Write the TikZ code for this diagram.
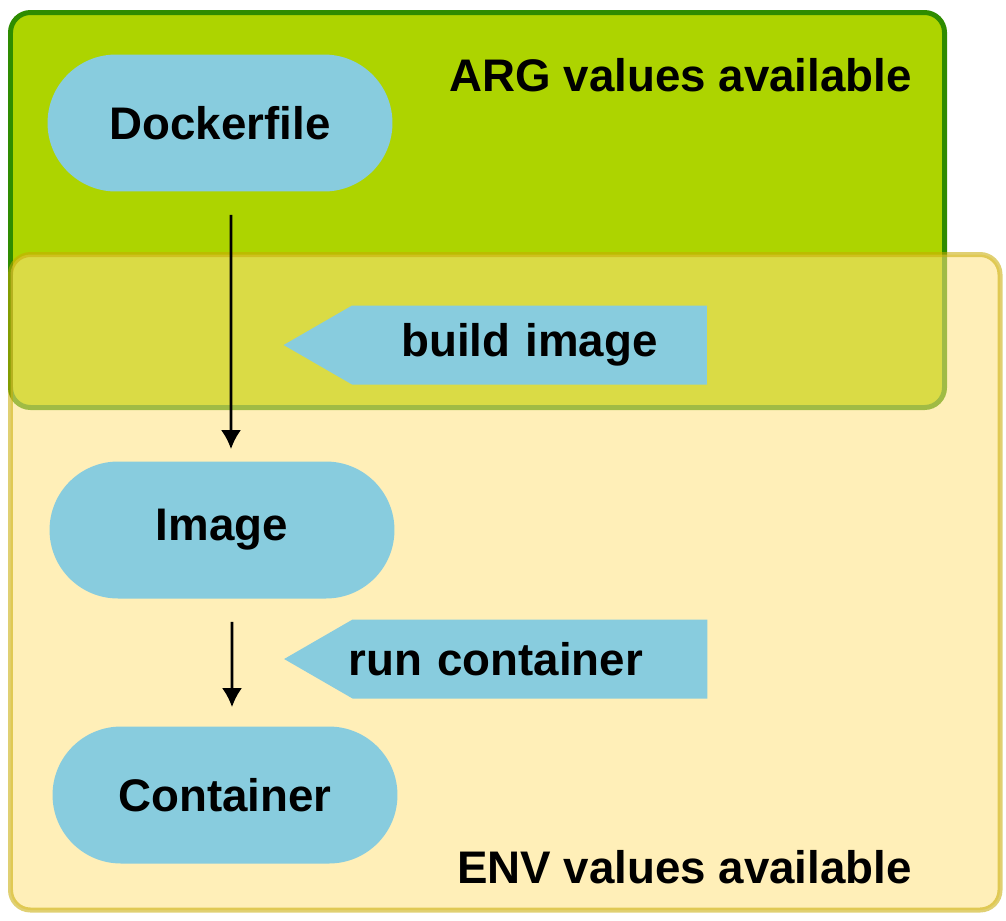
\documentclass[tikz,border=0pt]{standalone}
\usepackage{fontspec}
\setmainfont{Liberation Sans}
\usepackage{xcolor}
\usetikzlibrary{shapes.symbols, arrows.meta}

\definecolor{argfill}{RGB}{173,212,0}
\definecolor{argline}{RGB}{46,140,0}
\definecolor{envfill}{RGB}{255,226,126}
\definecolor{envline}{RGB}{199,170,0}
\definecolor{stepblue}{RGB}{136,204,222}

\tikzset{
    pill/.style={fill=stepblue, rounded corners=1.37cm, minimum width=6.9cm, minimum height=2.74cm, inner sep=0pt},
    tag/.style={fill=stepblue, signal, signal to=west, signal pointer angle=60, text width=7.1cm, align=center, inner xsep=0pt, minimum height=1.58cm},
    flow/.style={-{Latex[length=0.38cm, width=0.4cm]}, line width=0.055cm}
}

\begin{document}
\begin{tikzpicture}[x=0.02cm, y=-0.02cm, every node/.style={font=\fontsize{26}{30}\selectfont\bfseries}]
    \useasboundingbox (0,0) rectangle (1006,920);

    % Bereiche
    \draw[argline, fill=argfill, line width=0.1cm, rounded corners=0.4cm] (10.5,12.5) rectangle (944.5,407.5);
    \draw[envline, fill=envfill, opacity=0.55, line width=0.1cm, rounded corners=0.4cm] (10.5,254.5) rectangle (1000,910);

    \node[anchor=east] (argtext) at (918,75) {ARG values available};
    \node[anchor=east] (envtext) at (918,867) {ENV values available};

    % Schritte
    \node[pill] (dockerfile) at (220,123) {Dockerfile};
    \node[pill] (image) at (222,530) {Image};
    \node[pill] (container) at (225,795) {Container};

    \node[tag] (build) at (529.5,345) {build image};
    \node[tag, align=left] (run) at (530,659) {\hspace*{-0.08cm}run container};

    % Pfeile
    \draw[flow, shorten <=0.46cm, shorten >=0.24cm] ([xshift=0.22cm]dockerfile.south) -- ([xshift=0.18cm]image.north);
    \draw[flow, shorten <=0.46cm, shorten >=0.38cm] ([xshift=0.2cm]image.south) -- ([xshift=0.14cm]container.north);
\end{tikzpicture}
\end{document}
